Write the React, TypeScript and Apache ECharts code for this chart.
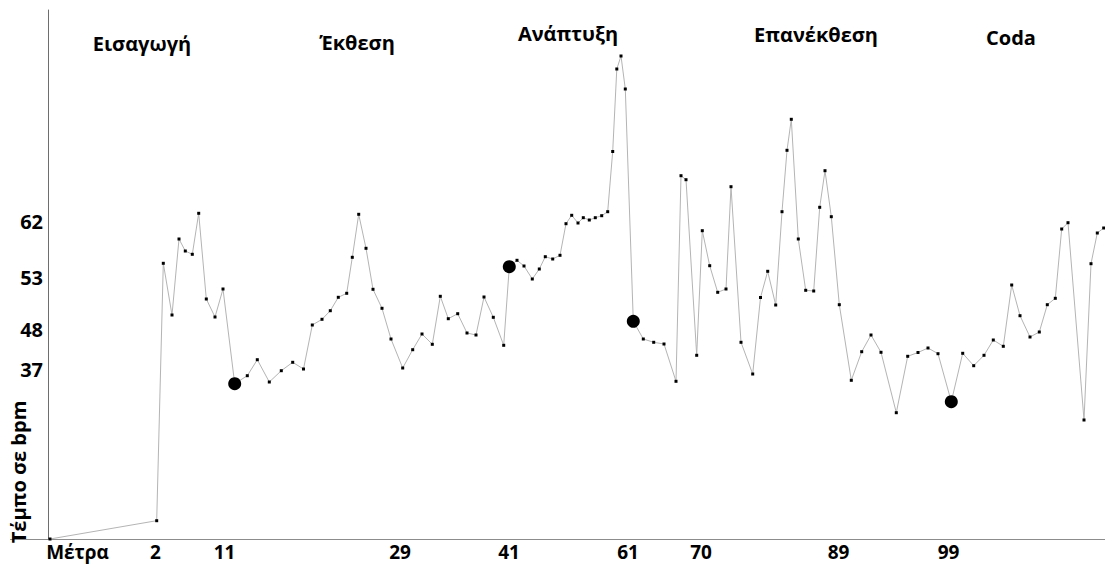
import React, { useEffect, useRef } from "react";
import * as echarts from "echarts";

// Position along the piece (horizontal units) and tempo height (vertical units)
const xs = [
  2, 108.7, 115.3, 124, 131, 137.3, 144.3, 150.7, 158.3, 167, 175, 186.7, 199.3, 209.3, 221.3, 233.3,
  244.7, 255.5, 264.3, 274, 282.3, 290.3, 298.7, 304.3, 310.7, 318, 325, 334, 343, 354.7, 364.7, 374,
  384.3, 392.3, 400.3, 409.7, 419, 428, 436, 445.3, 455.7, 461.3, 469, 476, 484.3, 491.3, 497.3, 504.7,
  512, 518, 523.7, 530, 535.3, 541.3, 547.3, 553.7, 559.7, 564.7, 568.8, 573, 577.3, 585.3, 595.3, 605.7,
  616, 628, 633, 638, 648.7, 654.3, 661.7, 669.7, 678, 683, 693, 704.7, 712.5, 719.7, 727.7, 734, 739,
  743.3, 750.3, 757.7, 765.7, 771.7, 777, 783.3, 791.3, 803.3, 813.7, 823, 833, 848.3, 859.7, 870, 880,
  890, 903.3, 914.7, 925.7, 936, 945.3, 955.3, 963.7, 972, 982, 991.3, 999.3, 1007.3, 1013.7, 1020, 1036,
  1043, 1049.3, 1055.7,
];
const ys = [
  0, 18.3, 275.7, 224, 300, 288, 284.7, 325.7, 240, 222, 250, 155.3, 163.3, 179.3, 157, 168.3, 176.7,
  170, 214, 219.7, 228.3, 241.7, 245.7, 281.7, 324.7, 290.7, 249.7, 230.7, 200, 171, 189.3, 205, 194.7,
  242.7, 220.3, 225.3, 206, 204, 242, 221.7, 193.7, 272.3, 278.7, 273, 260, 270, 282.3, 280, 283.7,
  315.3, 323.7, 316, 321.3, 319, 321.3, 323.3, 327.3, 387.5, 470, 483, 450, 217.7, 200, 196.7, 195,
  157.7, 363.3, 359.3, 183.7, 308.3, 273.3, 246.7, 250, 352.3, 196.7, 165, 241.5, 267.7, 234, 327.3,
  388.7, 419.7, 300, 248.7, 248, 331.7, 368.3, 322.3, 234.3, 158.7, 187.3, 204, 186.7, 126.3, 182.7,
  186.5, 191, 185.3, 137.3, 185.7, 173.3, 183.7, 199, 192.7, 254, 223.3, 202, 207, 234.3, 240.7, 310,
  316.3, 119, 275.3, 306, 311,
];
const highlightIdx = [11, 41, 61, 98];

const xTickValues = [29.5, 107.4, 176.5, 352, 461, 580, 653, 790.6, 900.5];
const xTickLabels = ["Μέτρα", "2", "11", "29", "41", "61", "70", "89", "99"];
const yTickValues = [169.7, 209.7, 261.7, 317.3];
const yTickLabels = ["37", "48", "53", "62"];

const sectionNames = ["Εισαγωγή", "Έκθεση", "Ανάπτυξη", "Επανέκθεση", "Coda"];
const yTitle = "Τέμπο σε bpm";

const FONT = '"Open Sans", "Noto Sans", sans-serif';

export default function App() {
  const ref = useRef<HTMLDivElement>(null);
  useEffect(() => {
    document.body.style.margin = "0";
    if (!ref.current) return;
    const chart = echarts.init(ref.current, null, { renderer: "svg" });
    const lookup = (vals: number[], labels: string[]) => (v: number) => {
      const i = vals.findIndex((t) => Math.abs(t - v) < 0.05);
      return i >= 0 ? labels[i] : "";
    };
    const sectionPos = [
      [142, 43],
      [357, 42],
      [568, 33],
      [816, 34],
      [1011, 37],
    ];
    chart.setOption({
      animation: false,
      backgroundColor: "#ffffff",
      grid: { left: 48, right: 0, top: 10, bottom: 37, containLabel: false, outerBoundsMode: "none" },
      xAxis: {
        type: "value",
        min: 0,
        max: 1057,
        axisLine: { show: true, lineStyle: { color: "#8c8c8c", width: 1 } },
        axisTick: { show: false },
        splitLine: { show: false },
        axisLabel: {
          customValues: xTickValues,
          formatter: lookup(xTickValues, xTickLabels),
          color: "#000",
          fontFamily: FONT,
          fontWeight: "bold",
          fontSize: 19,
          margin: 3,
          hideOverlap: false,
        },
      },
      yAxis: {
        type: "value",
        min: 0,
        max: 529,
        axisLine: { show: true, lineStyle: { color: "#6e6e6e", width: 1 } },
        axisTick: { show: false },
        splitLine: { show: false },
        axisLabel: {
          customValues: yTickValues,
          formatter: lookup(yTickValues, yTickLabels),
          color: "#000",
          fontFamily: FONT,
          fontWeight: "bold",
          fontSize: 20,
          margin: 5,
          hideOverlap: false,
        },
      },
      series: [
        {
          type: "line",
          data: xs.map((x, i) => [x, ys[i]]),
          symbol: "rect",
          symbolSize: 3,
          showAllSymbol: true,
          itemStyle: { color: "#000" },
          lineStyle: { color: "#b4b4b4", width: 1 },
          z: 2,
        },
        {
          type: "scatter",
          data: highlightIdx.map((i) => [xs[i], ys[i]]),
          symbol: "circle",
          symbolSize: 13,
          itemStyle: { color: "#000", opacity: 1 },
          z: 5,
        },
      ],
      graphic: [
        {
          type: "line",
          shape: { x1: 10, y1: 539.5, x2: 48, y2: 539.5 },
          style: { stroke: "#8c8c8c", lineWidth: 1 },
        },
        ...sectionNames.map((name, i) => ({
          type: "text",
          x: sectionPos[i][0],
          y: sectionPos[i][1],
          style: {
            text: name,
            font: `bold 20px ${FONT}`,
            fill: "#000",
            align: "center",
            verticalAlign: "middle",
          },
        })),
        {
          type: "text",
          x: 18,
          y: 472,
          rotation: Math.PI / 2,
          style: {
            text: yTitle,
            font: `bold 20px ${FONT}`,
            fill: "#000",
            align: "center",
            verticalAlign: "middle",
          },
        },
      ],
    });
    return () => chart.dispose();
  }, []);
  return <div ref={ref} style={{ width: 1105, height: 576 }} />;
}
